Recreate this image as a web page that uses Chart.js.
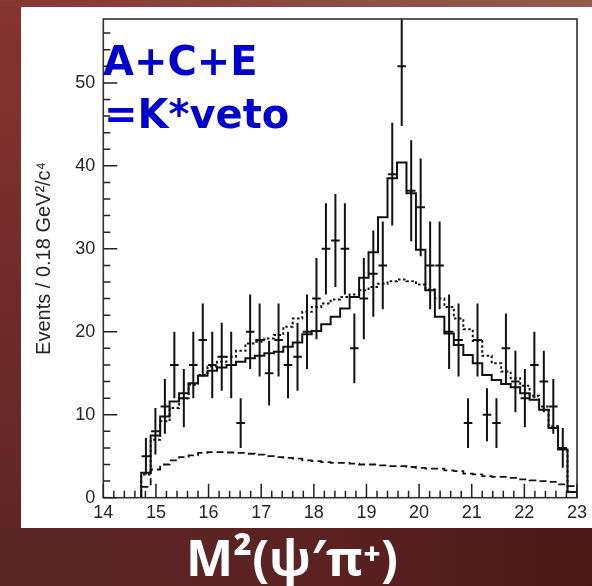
<!DOCTYPE html>
<html>
<head>
<meta charset="utf-8">
<script src="https://cdn.jsdelivr.net/npm/chart.js@4.4.1/dist/chart.umd.min.js"></script>
<style>
  html, body { margin: 0; padding: 0; background: #5a2424; }
  canvas { display: block; }
</style>
</head>
<body>
<canvas id="c" width="592" height="586"></canvas>
<script>
// M^2(psi' pi+) spectrum, K* veto applied (regions A+C+E)
const binWidth = 0.18;

// bin centres of the measured points
const binCentres = [
  14.81, 14.99, 15.17, 15.35, 15.53, 15.71, 15.89, 16.07, 16.25, 16.43,
  16.61, 16.79, 16.97, 17.15, 17.33, 17.51, 17.69, 17.87, 18.05, 18.23,
  18.41, 18.59, 18.77, 18.95, 19.13, 19.31, 19.49, 19.67, 19.85, 20.03,
  20.21, 20.39, 20.57, 20.75, 20.93, 21.11, 21.29, 21.47, 21.65, 21.83,
  22.01, 22.19, 22.37, 22.55, 22.73
];

// events per bin
const eventCounts = [
  5, 8, 11, 16, 12, 16, 19, 16, 17, 16,
  9, 20, 19, 15, 19, 16, 17, 20, 24, 30,
  31, 30, 18, 24, 27, 28, 39, 52, 37, 35,
  28, 28, 20, 19, 9, 19, 10, 9, 18, 14,
  12, 16, 14, 11, 6
];

// statistical uncertainty of each point
const eventErrors = [
  2.2, 2.8, 3.3, 4.0, 3.5, 4.0, 4.4, 4.0, 4.1, 4.0,
  3.0, 4.5, 4.4, 3.9, 4.4, 4.0, 4.1, 4.5, 4.9, 5.5,
  5.6, 5.5, 4.2, 4.9, 5.2, 5.3, 6.2, 7.2, 6.1, 5.9,
  5.3, 5.3, 4.5, 4.4, 3.0, 4.4, 3.2, 3.0, 4.2, 3.7,
  3.5, 4.0, 3.7, 3.3, 2.4
];

// lower edges of the fit histogram bins (last edge closes the histogram)
const fitEdges = [
  14.72, 14.90, 15.08, 15.26, 15.44, 15.62, 15.80, 15.98, 16.16, 16.34,
  16.52, 16.70, 16.88, 17.06, 17.24, 17.42, 17.60, 17.78, 17.96, 18.14,
  18.32, 18.50, 18.68, 18.86, 19.04, 19.22, 19.40, 19.58, 19.76, 19.94,
  20.12, 20.30, 20.48, 20.66, 20.84, 21.02, 21.20, 21.38, 21.56, 21.74,
  21.92, 22.10, 22.28, 22.46, 22.64, 22.82, 23.00
];

// fit including the psi' pi+ resonance (solid)
const fitWithZ = [
  3.0, 7.5, 9.8, 11.6, 12.6, 13.8, 14.7, 15.3, 15.7, 16.0,
  16.4, 16.8, 17.1, 17.4, 17.6, 18.2, 18.7, 19.7, 20.1, 20.9,
  21.8, 22.8, 24.2, 26.5, 29.6, 33.8, 38.5, 40.4, 36.7, 29.9,
  25.0, 21.8, 19.8, 18.4, 17.2, 16.2, 14.8, 14.2, 13.7, 13.3,
  12.6, 11.8, 10.6, 8.4, 5.8, 0.7
];

// fit without the resonance (dotted)
const fitNoZ = [
  2.8, 7.0, 9.2, 10.8, 12.0, 13.6, 14.8, 15.8, 16.4, 17.0,
  17.7, 18.6, 18.8, 19.2, 19.6, 20.6, 21.6, 22.4, 23.0, 23.4,
  23.9, 24.2, 24.5, 25.0, 25.4, 25.8, 26.1, 26.3, 26.1, 25.7,
  25.1, 24.0, 23.0, 21.6, 20.3, 18.9, 17.1, 16.2, 15.2, 14.4,
  13.5, 12.3, 11.0, 8.6, 5.9, 0.7
];

// combinatorial background (dashed)
const bkgShape = [
  1.3, 3.4, 4.0, 4.5, 4.9, 5.1, 5.4, 5.5, 5.5, 5.45,
  5.4, 5.3, 5.2, 5.0, 4.9, 4.8, 4.7, 4.5, 4.4, 4.3,
  4.2, 4.2, 4.1, 4.0, 4.0, 3.9, 3.8, 3.8, 3.7, 3.6,
  3.5, 3.5, 3.3, 3.2, 2.9, 2.8, 2.6, 2.5, 2.5, 2.4,
  2.2, 2.1, 2.0, 1.9, 1.6, 1.4
];

const xTickValues = [14, 15, 16, 17, 18, 19, 20, 21, 22, 23];
const yTickValues = [0, 10, 20, 30, 40, 50];
const xRange = [14, 23];
const yRange = [0, 57.7];

const axisFont = "'Liberation Sans', Arial, Helvetica, sans-serif";
const inkColour = '#121212';

// turn per-bin heights into step-line points
function stepPoints(values) {
  const pts = [{ x: fitEdges[0], y: 0 }];
  values.forEach((v, i) => pts.push({ x: fitEdges[i], y: v }));
  pts.push({ x: fitEdges[fitEdges.length - 1], y: 0 });
  return pts;
}

const pagePlugin = {
  id: 'page',
  beforeDraw(chart) {
    const { ctx, width, height } = chart;
    ctx.save();
    const v = ctx.createLinearGradient(0, 0, 0, height);
    v.addColorStop(0, '#86342f');
    v.addColorStop(1, '#5a2424');
    ctx.fillStyle = v;
    ctx.fillRect(0, 0, width, height);
    const t = ctx.createLinearGradient(0, 0, width, 0);
    t.addColorStop(0, '#873630');
    t.addColorStop(1, '#8f5e4e');
    ctx.fillStyle = t;
    ctx.fillRect(0, 0, width, 7);
    const b = ctx.createLinearGradient(0, 0, width, 0);
    b.addColorStop(0, '#5c2626');
    b.addColorStop(0.55, '#5c2222');
    b.addColorStop(1, '#4a1717');
    ctx.fillStyle = b;
    ctx.fillRect(0, 528, width, height - 528);
    ctx.fillStyle = '#ffffff';
    ctx.fillRect(21, 7, width - 21, 521);
    ctx.restore();
  }
};

const frameAndErrors = {
  id: 'frameAndErrors',
  afterDatasetsDraw(chart) {
    const { ctx, chartArea: a, scales } = chart;
    const xs = scales.x, ys = scales.y;
    ctx.save();
    // vertical error bars
    ctx.beginPath();
    ctx.rect(a.left, a.top, a.right - a.left, a.bottom - a.top);
    ctx.clip();
    ctx.strokeStyle = inkColour;
    ctx.lineWidth = 2;
    binCentres.forEach((xc, i) => {
      const px = xs.getPixelForValue(xc);
      const lo = ys.getPixelForValue(eventCounts[i] - eventErrors[i]);
      const hi = ys.getPixelForValue(eventCounts[i] + eventErrors[i]);
      ctx.beginPath();
      ctx.moveTo(px, lo);
      ctx.lineTo(px, hi);
      ctx.stroke();
    });
    ctx.restore();

    ctx.save();
    // frame
    ctx.strokeStyle = '#333';
    ctx.lineWidth = 1.6;
    ctx.strokeRect(a.left, a.top, a.right - a.left, a.bottom - a.top);
    // inward tick marks
    ctx.strokeStyle = '#222';
    ctx.lineWidth = 1.5;
    ctx.beginPath();
    for (let k = 0; k <= 45; k++) {
      const v = xRange[0] + k * 0.2;
      const px = xs.getPixelForValue(v);
      const len = (k % 5 === 0) ? 14 : 7;
      ctx.moveTo(px, a.bottom);
      ctx.lineTo(px, a.bottom - len);
    }
    for (let k = 0; k <= 28; k++) {
      const v = k * 2;
      const py = ys.getPixelForValue(v);
      const len = (k % 5 === 0) ? 14 : 7;
      ctx.moveTo(a.left, py);
      ctx.lineTo(a.left + len, py);
    }
    ctx.stroke();
    ctx.restore();
  },
  afterDraw(chart) {
    const { ctx } = chart;
    ctx.save();
    ctx.fillStyle = '#0000cc';
    ctx.font = "bold 40px 'DejaVu Sans', Verdana, sans-serif";
    ctx.textBaseline = 'alphabetic';
    ctx.textAlign = 'left';
    ctx.fillText('A+C+E', 103, 75);
    ctx.fillText('=K*veto', 104, 128);
    ctx.fillStyle = '#ffffff';
    ctx.font = "bold 50px 'Open Sans', 'DejaVu Sans', sans-serif";
    ctx.textAlign = 'center';
    ctx.fillText('M²(ψ′π⁺)', 292, 576);
    ctx.restore();
  }
};

new Chart(document.getElementById('c'), {
  type: 'scatter',
  data: {
    datasets: [
      {
        label: 'data',
        data: binCentres.map((x, i) => ({ x, y: eventCounts[i] })),
        showLine: false,
        pointStyle: 'line',
        pointRadius: 4.3,
        pointBorderWidth: 2,
        borderColor: inkColour,
        backgroundColor: inkColour,
        order: 0
      },
      {
        label: 'fit',
        data: stepPoints(fitWithZ),
        showLine: true,
        stepped: 'before',
        borderColor: inkColour,
        borderWidth: 2,
        pointRadius: 0,
        fill: false,
        order: 1
      },
      {
        label: 'fit, no resonance',
        data: stepPoints(fitNoZ),
        showLine: true,
        stepped: 'before',
        borderColor: inkColour,
        borderWidth: 2,
        borderDash: [2.5, 2.5],
        pointRadius: 0,
        fill: false,
        order: 2
      },
      {
        label: 'background',
        data: stepPoints(bkgShape),
        showLine: true,
        stepped: 'before',
        borderColor: inkColour,
        borderWidth: 1.8,
        borderDash: [7, 4],
        pointRadius: 0,
        fill: false,
        order: 3
      }
    ]
  },
  options: {
    responsive: false,
    animation: false,
    devicePixelRatio: 1,
    layout: { padding: { top: 19, right: 13, left: 0, bottom: 0 } },
    plugins: { legend: { display: false }, tooltip: { enabled: false } },
    scales: {
      x: {
        type: 'linear',
        min: xRange[0],
        max: xRange[1],
        grid: { display: false, drawTicks: false },
        border: { display: false },
        afterBuildTicks(scale) { scale.ticks = xTickValues.map(v => ({ value: v })); },
        afterFit(scale) { scale.height = 88.3; },
        ticks: {
          padding: 5,
          maxRotation: 0,
          autoSkip: false,
          color: '#262626',
          font: { family: axisFont, size: 18 }
        }
      },
      y: {
        type: 'linear',
        min: yRange[0],
        max: yRange[1],
        grid: { display: false, drawTicks: false },
        border: { display: false },
        afterBuildTicks(scale) { scale.ticks = yTickValues.map(v => ({ value: v })); },
        afterFit(scale) { scale.width = 103.3; },
        ticks: {
          padding: 8,
          autoSkip: false,
          color: '#262626',
          font: { family: axisFont, size: 18 }
        },
        title: {
          display: true,
          text: 'Events / 0.18 GeV²/c⁴',
          color: '#262626',
          font: { family: axisFont, size: 20 },
          padding: { top: 32, bottom: 0 }
        }
      }
    }
  },
  plugins: [pagePlugin, frameAndErrors]
});
</script>
</body>
</html>
